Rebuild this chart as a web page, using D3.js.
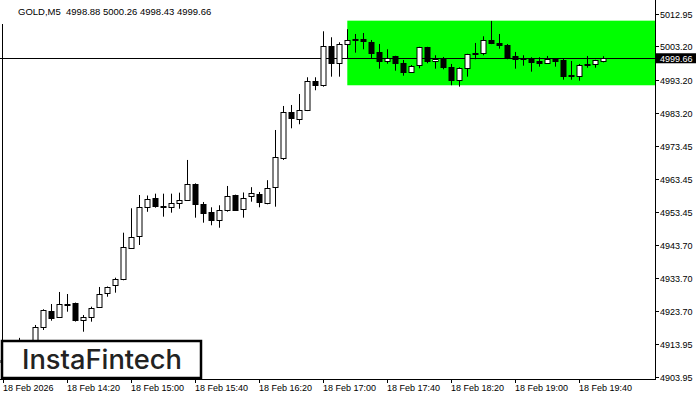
<!DOCTYPE html>
<html>
<head>
<meta charset="utf-8">
<script src="https://cdn.jsdelivr.net/npm/d3@7"></script>
<style>
  body { margin: 0; background: #fff; }
  svg { display: block; font-family: "Liberation Sans", Arial, sans-serif; }
</style>
</head>
<body>
<div id="chart"></div>
<script>
// GOLD M5 candles, 18 Feb 2026 13:40 .. 19:55 (one every 5 minutes)
var opens  = [4908.5,4909.0,4910.6,4912.8,4913.5,4918.88,4923.68,4921.88,4926.02,4926.08,
              4920.86,4921.88,4924.97,4929.09,4931.49,4933.29,4942.90,4946.08,4954.91,4957.61,
              4955.30,4954.91,4956.11,4957.01,4961.91,4955.81,4953.41,4950.89,4953.89,4958.51,
              4954.31,4958.15,4958.90,4956.11,4960.92,4969.63,4983.44,4981.34,4984.04,4992.84,
              4991.55,5003.26,4998.15,5003.86,5005.36,5005.36,5004.55,5001.46,4998.93,5000.26,
              4998.15,4995.45,4997.55,5002.96,4998.75,4999.66,4996.95,4992.93,4996.53,5001.25,
              5001.10,5005.06,5004.16,5003.65,5000.26,4999.66,4999.54,4998.84,4998.15,4999.54,
              4999.15,4994.55,4994.13,4997.95,4997.85,4998.88];
var highs  = [4910.2,4911.5,4915.7,4914.2,4919.57,4924.28,4925.87,4929.48,4928.87,4926.3,
              4922.57,4925.06,4930.98,4931.13,4933.77,4947.28,4954.61,4958.60,4958.45,4959.0,
              4959.0,4959.0,4959.30,4969.12,4962.1,4956.50,4954.91,4955.51,4961.31,4958.7,
              4959.36,4960.95,4959.51,4963.05,4978.12,4985.33,4985.63,4988.93,4993.95,4993.95,
              5007.76,5005.96,5004.46,5008.39,5006.95,5007.25,5005.15,5003.95,5002.36,5000.4,
              4999.15,4997.64,5003.1,5003.1,5000.56,5000.05,4997.95,4996.95,5001.0,5004.25,
              5006.26,5010.86,5006.95,5003.95,5001.55,5000.56,4999.96,4999.96,5000.35,4999.6,
              4999.54,4998.84,4997.95,5000.35,4999.2,5000.26];
var lows   = [4906.0,4907.8,4909.5,4911.2,4912.9,4918.06,4920.86,4921.67,4923.56,4920.6,
              4917.55,4920.56,4924.82,4928.06,4929.27,4933.0,4942.6,4943.59,4953.56,4954.79,
              4952.09,4953.29,4954.49,4956.8,4951.79,4950.29,4949.51,4948.78,4953.59,4953.8,
              4951.79,4956.59,4954.91,4955.81,4955.09,4969.12,4978.63,4979.84,4983.8,4990.05,
              4991.13,4994.13,4994.13,4999.66,5001.34,5002.36,4999.66,4996.53,4998.03,4995.93,
              4994.43,4995.3,4996.65,4998.15,4996.53,4996.35,4991.55,4991.13,4994.13,4999.36,
              5000.56,5003.9,5002.54,4999.36,4996.53,4997.43,4995.63,4997.13,4998.0,4997.13,
              4993.23,4993.23,4992.93,4996.83,4996.83,4998.43];
var closes = [4909.0,4910.6,4912.8,4913.5,4918.88,4924.07,4921.58,4925.78,4925.72,4920.86,
              4921.88,4924.67,4928.78,4930.89,4933.29,4942.90,4946.08,4954.91,4957.31,4955.09,
              4954.91,4956.11,4957.01,4961.91,4955.81,4953.11,4950.89,4954.01,4958.21,4954.01,
              4957.55,4959.12,4956.35,4960.62,4969.93,4983.44,4981.52,4984.13,4992.75,4991.55,
              5003.26,4998.15,5003.86,5005.06,5004.94,5004.70,5001.34,4998.63,4999.84,4998.03,
              4995.33,4997.25,5002.96,4998.63,4999.36,4996.95,4992.93,4996.65,5000.86,5000.86,
              5005.0,5004.16,5003.56,4999.66,4999.36,4999.24,4998.63,4998.15,4999.36,4998.93,
              4994.43,4994.13,4997.55,4997.55,4999.06,4999.66];

var priceTicks = [5012.95,5003.20,4993.20,4983.20,4973.45,4963.45,4953.45,4943.70,4933.70,4923.70,4913.95,4903.95];
var timeTickIdx = [0,8,16,24,32,40,48,56,64,72];
var timeTickLabels = ["18 Feb 2026","18 Feb 14:20","18 Feb 15:00","18 Feb 15:40","18 Feb 16:20",
                      "18 Feb 17:00","18 Feb 17:40","18 Feb 18:20","18 Feb 19:00","18 Feb 19:40"];

var lastPrice = 4999.66;
var zoneStart = 43, zoneHigh = 5010.95, zoneLow = 4991.55;
var title = "GOLD,M5  4998.88 5000.26 4998.43 4999.66";

var width = 700, height = 400;
var axisX = 655, axisY = 379;

var x = d3.scaleLinear().domain([0, 75]).range([3.3, 603.3]);
var y = d3.scaleLinear().domain([4903.95, 5012.95]).range([377, 14]);

var svg = d3.select("#chart").append("svg")
  .attr("width", width).attr("height", height);

svg.append("rect").attr("width", width).attr("height", height).attr("fill", "#fff");

// green pattern zone
svg.append("rect")
  .attr("x", x(zoneStart))
  .attr("y", y(zoneHigh))
  .attr("width", axisX - x(zoneStart))
  .attr("height", y(zoneLow) - y(zoneHigh))
  .attr("fill", "#00ff00");

// current price line
svg.append("line")
  .attr("x1", 0).attr("x2", axisX)
  .attr("y1", Math.round(y(lastPrice)) + 0.5).attr("y2", Math.round(y(lastPrice)) + 0.5)
  .attr("stroke", "#000").attr("stroke-width", 1);

// candles
var idx = d3.range(opens.length);
var g = svg.append("g");
g.selectAll(".wick").data(idx).enter().append("line")
  .attr("class", "wick")
  .attr("x1", function(i) { return Math.round(x(i)) + 0.5; })
  .attr("x2", function(i) { return Math.round(x(i)) + 0.5; })
  .attr("y1", function(i) { return y(highs[i]); })
  .attr("y2", function(i) { return y(lows[i]); })
  .attr("stroke", "#000").attr("stroke-width", 1);

g.selectAll(".body").data(idx).enter().append("rect")
  .attr("class", "body")
  .attr("x", function(i) { return Math.round(x(i)) - 2; })
  .attr("width", 5)
  .attr("y", function(i) { return Math.round(y(Math.max(opens[i], closes[i]))) + 0.5; })
  .attr("height", function(i) { return Math.max(1, Math.round(Math.abs(y(opens[i]) - y(closes[i])))); })
  .attr("fill", function(i) { return closes[i] >= opens[i] ? "#fff" : "#000"; })
  .attr("stroke", "#000").attr("stroke-width", 1);

// right price axis
svg.append("line").attr("x1", axisX + 0.5).attr("x2", axisX + 0.5)
  .attr("y1", 0).attr("y2", axisY + 0.5).attr("stroke", "#000");
var ya = svg.append("g").selectAll("g").data(priceTicks).enter().append("g")
  .attr("transform", function(d) { return "translate(" + axisX + "," + Math.round(y(d)) + ")"; });
ya.append("line").attr("x1", 0).attr("x2", 4).attr("y1", 0.5).attr("y2", 0.5).attr("stroke", "#000");
ya.append("text").attr("x", 5).attr("y", 4).attr("font-size", 9).attr("fill", "#000")
  .text(function(d) { return d.toFixed(2); });

// last price tag
svg.append("rect").attr("x", axisX + 1).attr("y", y(lastPrice) - 5)
  .attr("width", 40).attr("height", 10).attr("fill", "#000");
svg.append("text").attr("x", axisX + 5).attr("y", y(lastPrice) + 3.5)
  .attr("font-size", 9).attr("fill", "#fff").text(lastPrice.toFixed(2));

// bottom time axis
svg.append("line").attr("x1", 0).attr("x2", axisX + 1)
  .attr("y1", axisY + 0.5).attr("y2", axisY + 0.5).attr("stroke", "#000");
var xa = svg.append("g").selectAll("g").data(timeTickIdx).enter().append("g")
  .attr("transform", function(d) { return "translate(" + Math.round(x(d)) + "," + axisY + ")"; });
xa.append("line").attr("x1", 0.5).attr("x2", 0.5).attr("y1", 0).attr("y2", 4).attr("stroke", "#000");
xa.append("text").attr("x", 0).attr("y", 12).attr("font-size", 9).attr("fill", "#000")
  .text(function(d, i) { return timeTickLabels[i]; });

// left border
svg.append("line").attr("x1", 2.5).attr("x2", 2.5).attr("y1", 24).attr("y2", axisY)
  .attr("stroke", "#000");

// title
svg.append("text").attr("x", 18).attr("y", 15).attr("font-size", 9.5).attr("fill", "#000")
  .style("white-space", "pre").text(title);

// logo box
svg.append("rect").attr("x", 2).attr("y", 341).attr("width", 199).attr("height", 37)
  .attr("fill", "#fff").attr("stroke", "#000").attr("stroke-width", 2.5);
svg.append("text").attr("x", 22).attr("y", 369)
  .attr("font-family", "Inter, 'Noto Sans', sans-serif").attr("font-size", 27)
  .attr("font-weight", 500).attr("fill", "#222")
  .attr("textLength", 160).attr("lengthAdjust", "spacingAndGlyphs")
  .text("InstaFintech");
</script>
</body>
</html>
